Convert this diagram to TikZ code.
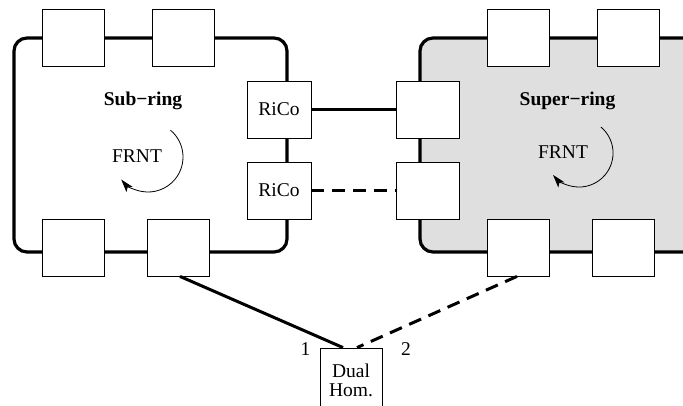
\documentclass[tikz,border=0pt]{standalone}
\usepackage{fontspec}
\setmainfont{Liberation Serif}
\usetikzlibrary{arrows.meta}
\begin{document}
\begin{tikzpicture}[x=1pt,y=-1pt,
  ringline/.style={line width=3.2pt},
  conn/.style={line width=3pt},
  dashconn/.style={line width=3pt,dash pattern=on 13pt off 8pt},
  box/.style={draw,line width=0.8pt,fill=white,minimum width=62pt,minimum height=57pt,inner sep=0pt,font=\fontsize{19.5}{19}\selectfont},
  lbl/.style={font=\fontsize{19.5}{22}\selectfont,inner sep=0pt},
  rot/.style={line width=0.8pt,-{Stealth[length=13pt,width=8pt,inset=3pt]}}]
\useasboundingbox (0,0) rectangle (683,406);
\clip (0,0) rectangle (683,406);
% rings
\draw[ringline,rounded corners=13pt] (14,38) rectangle (287,252);
\draw[ringline,rounded corners=13pt,fill=gray!25] (420,38) rectangle (720,252);
% boxes sub-ring
\node[box] (st1) at (73,37.5) {};
\node[box] (st2) at (183,37.5) {};
\node[box] (sb1) at (73,247.5) {};
\node[box] (sb2) at (178,247.5) {};
\node[box,minimum width=64pt] (rc1) at (279,109.5) {RiCo};
\node[box,minimum width=64pt] (rc2) at (279,190.5) {RiCo};
% boxes super-ring
\node[box,minimum width=63pt] (pl1) at (427.5,109.5) {};
\node[box,minimum width=63pt] (pl2) at (427.5,190.5) {};
\node[box] (pt1) at (518,37.5) {};
\node[box] (pt2) at (628,37.5) {};
\node[box] (pb1) at (518,247.5) {};
\node[box] (pb2) at (623,247.5) {};
% dual homing
\node[box,align=center,minimum height=64pt] (dh) at (351,380) {Dual\\Hom.};
% connectors
\draw[conn] ([xshift=2pt]sb2.south) -- ([xshift=-8pt]dh.north);
\draw[dashconn] ([xshift=-1pt]pb1.south) -- ([xshift=6pt]dh.north);
\draw[conn] (rc1.east) -- (pl1.west);
\draw[dashconn] (rc2.east) -- (pl2.west);
% labels
\node[lbl,anchor=base] (n1) at (305.5,355) {1};
\node[lbl,anchor=base] (n2) at (406,355) {2};
\node[lbl,anchor=base,font=\fontsize{19.5}{22}\selectfont\bfseries] (subl) at (143,106) {Sub−ring};
\node[lbl,anchor=base] (f1) at (137,162.5) {FRNT};
\node[lbl,anchor=base,font=\fontsize{19.5}{22}\selectfont\bfseries] (supl) at (567.5,106) {Super−ring};
\node[lbl,anchor=base] (f2) at (563,158.5) {FRNT};
% rotation arrows
\draw[rot] (170.5,130.2) arc[start angle=-50,end angle=140,radius=35];
\draw[rot] (600.9,127) arc[start angle=-50,end angle=140,radius=34];
\end{tikzpicture}
\end{document}
